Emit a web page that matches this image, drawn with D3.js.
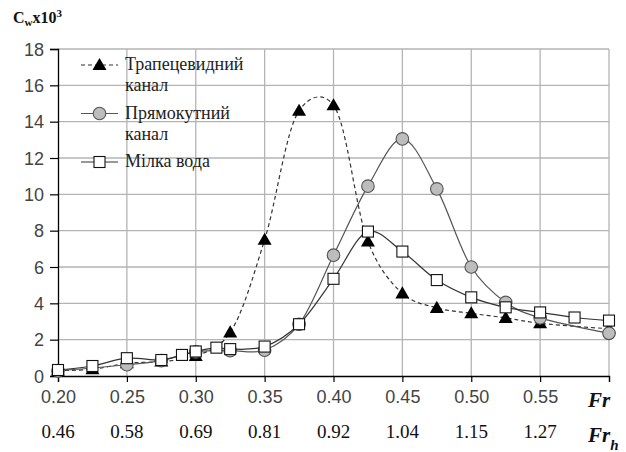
<!DOCTYPE html>
<html>
<head>
<meta charset="utf-8">
<script src="https://cdn.jsdelivr.net/npm/d3@7"></script>
<style>
    html, body { margin: 0; padding: 0; background: #fff; }
</style>
</head>
<body>
<div id="chart"></div>
<script>
// ===== Data =====
const trapX = [0.20, 0.225, 0.25, 0.275, 0.30, 0.325, 0.35, 0.375, 0.40, 0.425, 0.45, 0.475, 0.50, 0.525, 0.55, 0.60];
const trapY = [0.30, 0.37, 0.70, 0.80, 1.10, 2.40, 7.50, 14.6, 14.9, 7.40, 4.55, 3.75, 3.45, 3.20, 2.90, 2.60];

const rectX = [0.20, 0.25, 0.275, 0.30, 0.325, 0.35, 0.375, 0.40, 0.425, 0.45, 0.475, 0.50, 0.525, 0.55, 0.60];
const rectY = [0.28, 0.62, 0.85, 1.33, 1.40, 1.42, 2.85, 6.65, 10.45, 13.05, 10.3, 6.00, 4.05, 3.20, 2.35];

const shallowX = [0.20, 0.225, 0.25, 0.275, 0.29, 0.30, 0.315, 0.325, 0.35, 0.375, 0.40, 0.425, 0.45, 0.475, 0.50, 0.525, 0.55, 0.575, 0.60];
const shallowY = [0.33, 0.55, 0.98, 0.88, 1.16, 1.35, 1.56, 1.48, 1.62, 2.85, 5.35, 7.95, 6.85, 5.28, 4.33, 3.78, 3.50, 3.22, 3.05];

const frTicks = [0.20, 0.25, 0.30, 0.35, 0.40, 0.45, 0.50, 0.55, 0.60];
const frhLabels = ['0.46', '0.58', '0.69', '0.81', '0.92', '1.04', '1.15', '1.27'];
const yTicks = [0, 2, 4, 6, 8, 10, 12, 14, 16, 18];

const seriesNames = [['Трапецевидний', 'канал'], ['Прямокутний', 'канал'], ['Мілка вода']];

// ===== Fonts =====
const SANS = 'Liberation Sans';
const SERIF = 'Liberation Serif';

// ===== Setup =====
const W = 626, H = 452;
const margin = { top: 49, right: 17, bottom: 76, left: 58 };
const width = W - margin.left - margin.right;
const height = H - margin.top - margin.bottom;

const svg = d3.select('#chart').append('svg')
    .attr('width', W)
    .attr('height', H);

const g = svg.append('g')
    .attr('transform', `translate(${margin.left},${margin.top})`);

const x = d3.scaleLinear().domain([0.2, 0.6]).range([0, width]);
const y = d3.scaleLinear().domain([0, 18]).range([height, 0]);

// grid
g.selectAll('.vgrid')
    .data(frTicks.slice(1))
    .enter().append('line')
    .attr('x1', d => x(d)).attr('x2', d => x(d))
    .attr('y1', 0).attr('y2', height)
    .attr('stroke', '#b4b4b4').attr('stroke-width', 1.3);

g.selectAll('.hgrid')
    .data(yTicks.slice(1))
    .enter().append('line')
    .attr('x1', 0).attr('x2', width)
    .attr('y1', d => y(d)).attr('y2', d => y(d))
    .attr('stroke', '#b4b4b4').attr('stroke-width', 1.3);

// axes (black left & bottom)
const yAxis = g.append('g')
    .call(d3.axisLeft(y).tickValues(yTicks).tickSize(8).tickFormat(d3.format('d')));
yAxis.attr('font-family', SANS).attr('font-size', 18);
yAxis.select('.domain').attr('stroke', '#000').attr('stroke-width', 1.3);
yAxis.selectAll('.tick line').attr('stroke', '#000').attr('stroke-width', 1.2);
yAxis.selectAll('.tick text')
    .attr('fill', '#444')
    .attr('x', -14)
    .attr('dy', '0.35em');

const xAxis = g.append('g')
    .attr('transform', `translate(0,${height})`)
    .call(d3.axisBottom(x).tickValues(frTicks).tickSize(6).tickFormat(d => d < 0.59 ? d3.format('.2f')(d) : ''));
xAxis.attr('font-family', SANS).attr('font-size', 18);
xAxis.select('.domain').attr('stroke', '#000').attr('stroke-width', 1.3);
xAxis.selectAll('.tick line').attr('stroke', '#000').attr('stroke-width', 1.2);
xAxis.selectAll('.tick text')
    .attr('fill', '#444')
    .attr('y', 27)
    .attr('dy', 0);

// Fr_h row
g.selectAll('.frh')
    .data(frhLabels)
    .enter().append('text')
    .attr('font-family', SERIF)
    .attr('font-size', 19)
    .attr('fill', '#111')
    .attr('x', (d, i) => x(frTicks[i]))
    .attr('y', height + 62)
    .attr('text-anchor', 'middle')
    .text(d => d);

// axis names
function axisName(xPos, yPos) {
    return svg.append('text')
        .attr('font-family', SERIF)
        .attr('font-size', 21)
        .attr('font-weight', 'bold')
        .attr('font-style', 'italic')
        .attr('fill', '#111')
        .attr('x', xPos).attr('y', yPos);
}
axisName(588, 407).text('Fr');
const frh = axisName(588, 442);
frh.append('tspan').text('Fr');
frh.append('tspan').attr('dy', 8).attr('font-size', 15).text('h');

// title
const title = svg.append('text')
    .attr('font-family', SERIF)
    .attr('font-size', 16)
    .attr('font-weight', 'bold')
    .attr('fill', '#111')
    .attr('x', 13).attr('y', 23);
title.append('tspan').text('C');
title.append('tspan').attr('dy', 3).attr('font-size', 11).text('w');
title.append('tspan').attr('dy', -3).text('x10');
title.append('tspan').attr('dy', -6).attr('font-size', 11).text('3');

// ===== Series =====
const line = d3.line()
    .x(d => x(d[0]))
    .y(d => y(d[1]))
    .curve(d3.curveCatmullRom.alpha(0.2));

const trapData = trapX.map((v, i) => [v, trapY[i]]);
const rectData = rectX.map((v, i) => [v, rectY[i]]);
const shallowData = shallowX.map((v, i) => [v, shallowY[i]]);

const triPath = d3.symbol().type(d3.symbolTriangle).size(85)();

function drawTriangle(sel) {
    sel.append('path').attr('d', triPath).attr('fill', '#000').attr('transform', 'translate(0,1)');
}
function drawCircle(sel) {
    sel.append('circle').attr('r', 6.3).attr('fill', '#bdbdbd').attr('stroke', '#555').attr('stroke-width', 1.1);
}
function drawSquare(sel) {
    sel.append('rect').attr('x', -5.5).attr('y', -5.5).attr('width', 11).attr('height', 11)
        .attr('fill', '#fff').attr('stroke', '#111').attr('stroke-width', 1.1);
}

const series = [
    { data: trapData, stroke: '#333', dash: '4,3', marker: drawTriangle },
    { data: rectData, stroke: '#555', dash: null, marker: drawCircle },
    { data: shallowData, stroke: '#333', dash: null, marker: drawSquare }
];

series.forEach(s => {
    g.append('path')
        .datum(s.data)
        .attr('fill', 'none')
        .attr('stroke', s.stroke)
        .attr('stroke-width', 1.2)
        .attr('stroke-dasharray', s.dash)
        .attr('d', line);

    g.selectAll(null)
        .data(s.data)
        .enter().append('g')
        .attr('transform', d => `translate(${x(d[0])},${y(d[1])})`)
        .each(function () { s.marker(d3.select(this)); });
});

// ===== Legend =====
const legendRows = [
    { y: 65, textY: [70, 91] },
    { y: 113.5, textY: [118.5, 139.5] },
    { y: 162, textY: [167] }
];

legendRows.forEach((row, i) => {
    const s = series[i];
    svg.append('line')
        .attr('x1', 81).attr('x2', 118)
        .attr('y1', row.y).attr('y2', row.y)
        .attr('stroke', s.stroke).attr('stroke-width', 1.2)
        .attr('stroke-dasharray', s.dash);
    const m = svg.append('g').attr('transform', `translate(99.5,${row.y})`);
    s.marker(m);
    seriesNames[i].forEach((t, j) => {
        svg.append('text')
            .attr('font-family', SERIF)
            .attr('font-size', 18)
            .attr('fill', '#222')
            .attr('x', 125).attr('y', row.textY[j])
            .text(t);
    });
});
</script>
</body>
</html>
